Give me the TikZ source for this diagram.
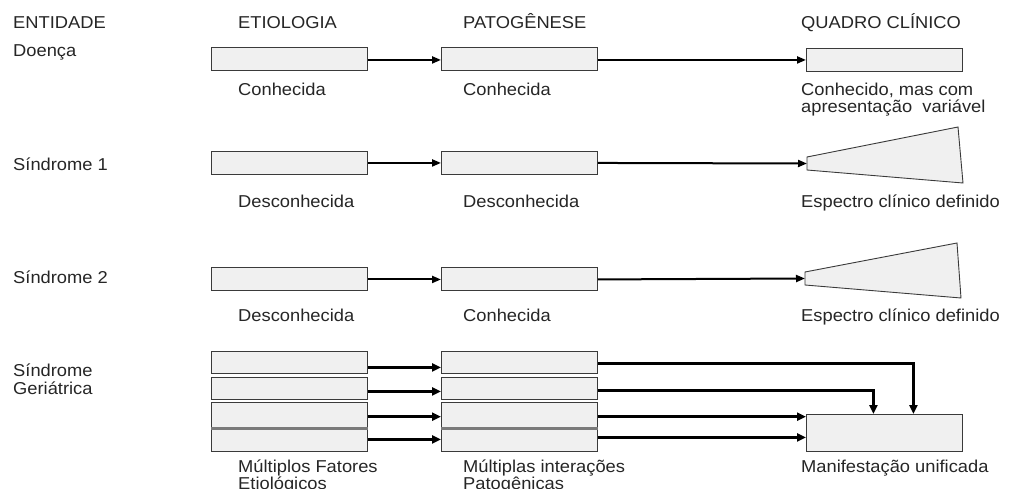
\documentclass[tikz,border=0pt]{standalone}
\usepackage{fontspec}
\setmainfont{Liberation Sans}[FakeStretch=1.065]
\usetikzlibrary{arrows.meta}
\definecolor{txt}{HTML}{262626}
\definecolor{bfill}{HTML}{F0F0F0}
\definecolor{bdraw}{HTML}{3A3A3A}
\definecolor{sep}{HTML}{7A7A7A}
\newcommand\twolines[3]{\vtop{\baselineskip=#1pt\hbox{#2}\hbox{#3}}}
\begin{document}
\begin{tikzpicture}[x=1pt,y=-1pt,
  lbl/.style={anchor=base west,inner sep=0pt,text=txt,font=\fontsize{17.2}{16.5}\selectfont},
  bx/.style={anchor=north west,inner sep=0pt,draw=bdraw,fill=bfill,line width=0.9pt,minimum width=156pt},
  arr/.style={line width=2pt,-{Triangle[length=9pt,width=7pt]}},
  arrb/.style={line width=2.8pt,-{Triangle[length=9pt,width=8pt]}}]
\useasboundingbox (0,0) rectangle (1013,489);
\fill[white] (0,0) rectangle (1013,489);
% headers
\node[lbl] (hE) at (13,28.5) {ENTIDADE};
\node[lbl] (hEt) at (238,28.5) {ETIOLOGIA};
\node[lbl] (hP) at (463,28.5) {PATOGÊNESE};
\node[lbl] (hQ) at (801,28.5) {QUADRO CLÍNICO};
% row 1
\node[lbl] (n1) at (13,57) {Doença};
\node[bx,minimum height=23pt] (E1) at (211,47) {};
\node[bx,minimum height=23pt] (P1) at (441,47) {};
\node[bx,minimum height=23pt] (Q1) at (806,48) {};
\draw[arr] ([yshift=-1pt]E1.east) -- ([yshift=-1pt]P1.west);
\draw[arr] ([yshift=-1pt]P1.east) -- (Q1.west);
\node[lbl] (l1a) at (238,95.5) {Conhecida};
\node[lbl] (l1b) at (463,95.5) {Conhecida};
\node[lbl] (l1c) at (801,96) {\twolines{16.5}{Conhecido, mas com}{apresentação\ \ variável}};
% row 2
\node[lbl] (n2) at (13,171) {Síndrome 1};
\node[bx,minimum height=23pt] (E2) at (211,151) {};
\node[bx,minimum height=23pt] (P2) at (441,151) {};
\draw[draw=bdraw,fill=bfill,line width=0.9pt] (807,157) -- (958,127) -- (963,183) -- (807,170) -- cycle;
\coordinate (T2) at (807,163.5);
\draw[arr] (E2.east) -- (P2.west);
\draw[arr] (P2.east) -- (T2);
\node[lbl] (l2a) at (238,208) {Desconhecida};
\node[lbl] (l2b) at (463,208) {Desconhecida};
\node[lbl] (l2c) at (801,208) {Espectro clínico definido};
% row 3
\node[lbl] (n3) at (13,284) {Síndrome 2};
\node[bx,minimum height=23pt] (E3) at (211,267) {};
\node[bx,minimum height=23pt] (P3) at (441,267) {};
\draw[draw=bdraw,fill=bfill,line width=0.9pt] (805,272) -- (957,243) -- (961,298) -- (805,285) -- cycle;
\coordinate (T3) at (805,278.5);
\draw[arr] ([yshift=-0.5pt]E3.east) -- ([yshift=-0.5pt]P3.west);
\draw[arr] ([yshift=-0.5pt]P3.east) -- (T3);
\node[lbl] (l3a) at (238,322) {Desconhecida};
\node[lbl] (l3b) at (463,322) {Conhecida};
\node[lbl] (l3c) at (801,322) {Espectro clínico definido};
% row 4
\node[lbl] (n4) at (13,376) {\twolines{18}{Síndrome}{Geriátrica}};
\node[bx,minimum height=22pt] (E4a) at (211,351) {};
\node[bx,minimum height=22pt] (E4b) at (211,377) {};
\node[bx,minimum height=25.5pt] (E4c) at (211,402) {};
\node[bx,minimum height=23pt] (E4d) at (211,428) {};
\node[bx,minimum height=22pt] (P4a) at (441,351) {};
\node[bx,minimum height=22pt] (P4b) at (441,377) {};
\node[bx,minimum height=25.5pt] (P4c) at (441,402) {};
\node[bx,minimum height=23pt] (P4d) at (441,428) {};
\draw[sep,line width=2.6pt] (E4c.south west) -- (E4c.south east);
\draw[sep,line width=2.6pt] (P4c.south west) -- (P4c.south east);
\node[bx,minimum height=37pt] (F) at (806,414) {};
\draw[arrb] ([yshift=-5pt]E4a.east) -- ([yshift=-5pt]P4a.west);
\draw[arrb] ([yshift=-3pt]E4b.east) -- ([yshift=-3pt]P4b.west);
\draw[arrb] ([yshift=-1.5pt]E4c.east) -- ([yshift=-1.5pt]P4c.west);
\draw[arrb] ([yshift=0.5pt]E4d.east) -- ([yshift=0.5pt]P4d.west);
\draw[arrb] ([yshift=-1pt]P4a.east) -| ([xshift=29pt]F.north);
\draw[arrb] ([yshift=-2pt]P4b.east) -| ([xshift=-11pt]F.north);
\coordinate (s3) at ([yshift=-1.5pt]P4c.east);
\coordinate (s4) at ([yshift=2.5pt]P4d.east);
\draw[arrb] (s3) -- (F.west |- s3);
\draw[arrb] (s4) -- (F.west |- s4);
\node[lbl] (l4a) at (238,472) {\twolines{17}{Múltiplos Fatores}{Etiológicos}};
\node[lbl] (l4b) at (463,472) {\twolines{17}{Múltiplas interações}{Patogênicas}};
\node[lbl] (l4c) at (801,472) {Manifestação unificada};
\end{tikzpicture}
\end{document}
